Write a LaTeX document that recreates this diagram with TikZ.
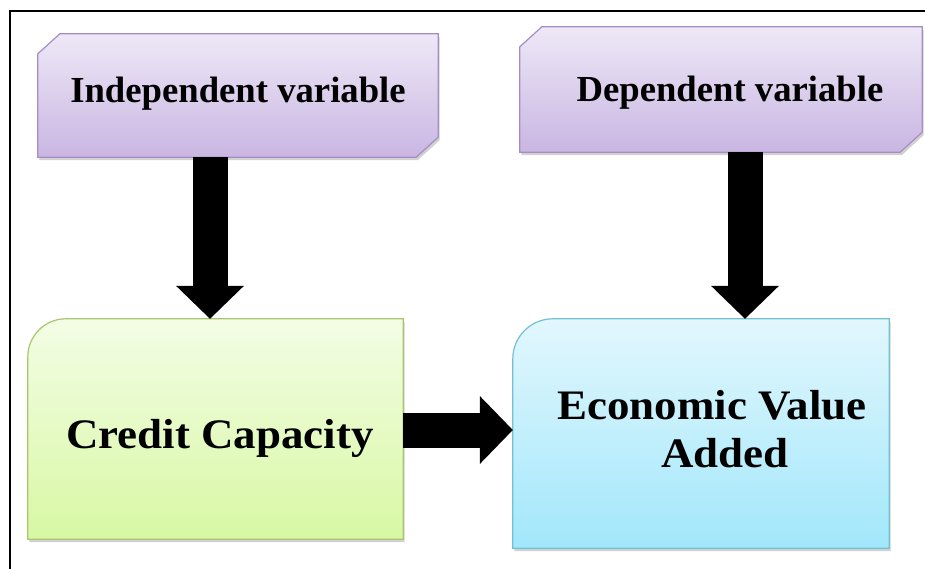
\documentclass[tikz,border=0pt]{standalone}
\usepackage{fontspec}
\setmainfont{Liberation Serif}
\newfontfamily\widefont[FakeStretch=1.07]{Liberation Serif}
\usetikzlibrary{arrows.meta,shadows,calc}
\pgfdeclarelayer{background}
\pgfsetlayers{background,main}

\definecolor{purpleTop}{HTML}{EEE8F7}
\definecolor{purpleBot}{HTML}{C9B6E2}
\definecolor{purpleLine}{HTML}{A58DC6}
\definecolor{greenTop}{HTML}{F3FDE5}
\definecolor{greenBot}{HTML}{D8F8A4}
\definecolor{greenLine}{HTML}{A9C66F}
\definecolor{blueTop}{HTML}{E2F7FD}
\definecolor{blueBot}{HTML}{A2E7FB}
\definecolor{blueLine}{HTML}{72C0D5}

% text set on a baseline placed a given distance below the node centre
\newcommand{\basedown}[2]{\raisebox{-#1}[0pt][0pt]{#2}}

\tikzset{
  boxshadow/.style={drop shadow={shadow xshift=1.5pt, shadow yshift=-3pt, opacity=0.4, fill=black!45}},
  varbox/.style={inner sep=0pt, font=\bfseries\fontsize{36.7}{44}\selectfont},
  mainbox/.style={inner sep=0pt, align=center, font=\widefont\bfseries\fontsize{42}{50}\selectfont},
  purplefill/.style={top color=purpleTop, bottom color=purpleBot, draw=purpleLine, line width=1.2pt, boxshadow},
  greenfill/.style={top color=greenTop, bottom color=greenBot, draw=greenLine, line width=1.2pt, boxshadow},
  bluefill/.style={top color=blueTop, bottom color=blueBot, draw=blueLine, line width=1.2pt, boxshadow},
  blockarrow/.style={line width=35pt, black, -{Triangle[width=68pt,length=33pt,line width=0pt]}},
}

\begin{document}
\begin{tikzpicture}[x=1pt,y=-1pt]
  \useasboundingbox (0,0) rectangle (925,569);

  % outer frame
  \draw[line width=2pt] (10,575) -- (10,11) -- (930,11);

  % boxes with their texts
  \node[varbox, minimum width=400pt, minimum height=123pt] (iv) at (238,95.5) {\basedown{7.5pt}{Independent variable}};
  \node[varbox, minimum width=402pt, minimum height=125pt] (dv) at (721,89.5) {\basedown{12.5pt}{\hspace*{18pt}Dependent variable}};
  \node[mainbox, minimum width=375pt, minimum height=220pt] (cc) at (215.5,429) {\basedown{19pt}{\hspace*{9pt}Credit Capacity}};
  \node[mainbox, minimum width=376pt, minimum height=229pt] (eva) at (701,433.5) {\begin{tabular}{@{}c@{}}\hspace*{22pt}Economic Value\\[-2pt]\hspace*{48pt}Added\end{tabular}};

  \begin{pgfonlayer}{background}
    % chamfered variable boxes
    \path[purplefill] (iv.south west) -- ([yshift=-20pt]iv.north west) -- ([xshift=22pt]iv.north west)
      -- (iv.north east) -- ([yshift=20pt]iv.south east) -- ([xshift=-22pt]iv.south east) -- cycle;
    \path[purplefill] (dv.south west) -- ([yshift=-20pt]dv.north west) -- ([xshift=22pt]dv.north west)
      -- (dv.north east) -- ([yshift=20pt]dv.south east) -- ([xshift=-22pt]dv.south east) -- cycle;
    % boxes with one rounded corner
    \path[greenfill] (cc.south west) -- ([yshift=-38pt]cc.north west)
      arc[start angle=180, end angle=90, radius=38pt] -- (cc.north east) -- (cc.south east) -- cycle;
    \path[bluefill] (eva.south west) -- ([yshift=-40pt]eva.north west)
      arc[start angle=180, end angle=90, radius=40pt] -- (eva.north east) -- (eva.south east) -- cycle;
  \end{pgfonlayer}

  % block arrows
  \draw[blockarrow] ([xshift=-28pt]iv.south) -- ([xshift=-5.5pt]cc.north);
  \draw[blockarrow] ([xshift=24pt]dv.south) -- ([xshift=44pt]eva.north);
  \draw[blockarrow] ([yshift=-1pt]cc.east) -- ([yshift=3.5pt]eva.west);
\end{tikzpicture}
\end{document}
